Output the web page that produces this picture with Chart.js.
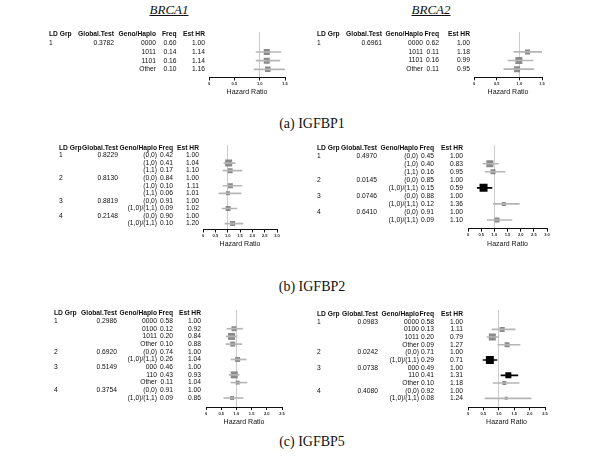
<!DOCTYPE html>
<html>
<head>
<meta charset="utf-8">
<script src="https://cdn.jsdelivr.net/npm/chart.js@4.4.1/dist/chart.umd.min.js"></script>
<style>
  body { margin: 0; width: 600px; height: 461px; background: #fff; position: relative; overflow: hidden; font-family: "Liberation Serif", "Times New Roman", serif; color: #111; }
  .gene { position: absolute; top: 3px; font-size: 13px; line-height: 14px; font-style: italic; text-decoration: underline; transform: translateX(-50%); white-space: nowrap; }
  .cap { position: absolute; font-size: 14px; line-height: 14px; transform: translateX(-50%); white-space: nowrap; }
  canvas { position: absolute; }
</style>
</head>
<body>
<div class="gene" style="left:169px">BRCA1</div>
<div class="gene" style="left:431px">BRCA2</div>
<div class="cap" style="left:312px;top:117px">(a) IGFBP1</div>
<div class="cap" style="left:312px;top:280px">(b) IGFBP2</div>
<div class="cap" style="left:312px;top:435px">(c) IGFBP5</div>

<canvas id="a1"></canvas>
<canvas id="a2"></canvas>
<canvas id="b1"></canvas>
<canvas id="b2"></canvas>
<canvas id="c1"></canvas>
<canvas id="c2"></canvas>

<script>
// --- (a) IGFBP1, BRCA1 ---
const a1Grp = ['1', '', '', ''];
const a1Global = ['0.3782', '', '', ''];
const a1Haplo = ['0000', '1011', '1101', 'Other'];
const a1Freq = [0.60, 0.14, 0.16, 0.10];
const a1HR = [1.00, 1.14, 1.14, 1.16];
const a1Low = [null, 0.93, 0.93, 0.89];
const a1High = [null, 1.42, 1.40, 1.50];

// --- (a) IGFBP1, BRCA2 ---
const a2Grp = ['1', '', '', ''];
const a2Global = ['0.6961', '', '', ''];
const a2Haplo = ['0000', '1011', '1101', 'Other'];
const a2Freq = [0.62, 0.11, 0.16, 0.11];
const a2HR = [1.00, 1.18, 0.99, 0.95];
const a2Low = [null, 0.88, 0.75, 0.66];
const a2High = [null, 1.61, 1.30, 1.32];

// --- (b) IGFBP2, BRCA1 ---
const b1Grp = ['1', '', '', '2', '', '', '3', '', '4', ''];
const b1Global = ['0.8229', '', '', '0.8130', '', '', '0.8819', '', '0.2148', ''];
const b1Haplo = ['(0,0)', '(1,0)', '(1,1)', '(0,0)', '(1,0)', '(1,1)', '(0,0)', '(1,0)/(1,1)', '(0,0)', '(1,0)/(1,1)'];
const b1Freq = [0.42, 0.41, 0.17, 0.84, 0.10, 0.06, 0.91, 0.09, 0.90, 0.10];
const b1HR = [1.00, 1.04, 1.10, 1.00, 1.11, 1.01, 1.00, 1.02, 1.00, 1.20];
const b1Low = [null, 0.85, 0.81, null, 0.81, 0.65, null, 0.77, null, 0.89];
const b1High = [null, 1.30, 1.58, null, 1.58, 1.54, null, 1.38, null, 1.62];

// --- (b) IGFBP2, BRCA2 ---
const b2Grp = ['1', '', '', '2', '', '3', '', '4', ''];
const b2Global = ['0.4970', '', '', '0.0145', '', '0.0746', '', '0.6410', ''];
const b2Haplo = ['(0,0)', '(1,0)', '(1,1)', '(0,0)', '(1,0)/(1,1)', '(0,0)', '(1,0)/(1,1)', '(0,0)', '(1,0)/(1,1)'];
const b2Freq = [0.45, 0.40, 0.16, 0.85, 0.15, 0.88, 0.12, 0.91, 0.09];
const b2HR = [1.00, 0.83, 0.95, 1.00, 0.59, 1.00, 1.36, 1.00, 1.10];
const b2Low = [null, 0.57, 0.65, null, 0.35, null, 0.96, null, 0.73];
const b2High = [null, 1.15, 1.41, null, 0.91, null, 1.95, null, 1.67];

// --- (c) IGFBP5, BRCA1 ---
const c1Grp = ['1', '', '', '', '2', '', '3', '', '', '4', ''];
const c1Global = ['0.2986', '', '', '', '0.6920', '', '0.5149', '', '', '0.3754', ''];
const c1Haplo = ['0000', '0100', '1011', 'Other', '(0,0)', '(1,0)/(1,1)', '000', '110', 'Other', '(0,0)', '(1,0)/(1,1)'];
const c1Freq = [0.58, 0.12, 0.20, 0.10, 0.74, 0.26, 0.46, 0.43, 0.11, 0.91, 0.09];
const c1HR = [1.00, 0.92, 0.84, 0.88, 1.00, 1.04, 1.00, 0.93, 1.04, 1.00, 0.86];
const c1Low = [null, 0.69, 0.66, 0.66, null, 0.82, null, 0.76, 0.82, null, 0.59];
const c1High = [null, 1.20, 1.02, 1.18, null, 1.32, null, 1.09, 1.35, null, 1.22];

// --- (c) IGFBP5, BRCA2 ---
const c2Grp = ['1', '', '', '', '2', '', '3', '', '', '4', ''];
const c2Global = ['0.0983', '', '', '', '0.0242', '', '0.0738', '', '', '0.4080', ''];
const c2Haplo = ['0000', '0100', '1011', 'Other', '(0,0)', '(1,0)/(1,1)', '000', '110', 'Other', '(0,0)', '(1,0)/(1,1)'];
const c2Freq = [0.58, 0.13, 0.20, 0.09, 0.71, 0.29, 0.49, 0.41, 0.10, 0.92, 0.08];
const c2HR = [1.00, 1.11, 0.79, 1.27, 1.00, 0.71, 1.00, 1.31, 1.18, 1.00, 1.24];
const c2Low = [null, 0.78, 0.62, 0.97, null, 0.49, null, 1.07, 0.82, null, 0.55];
const c2High = [null, 1.53, 1.00, 1.69, null, 0.94, null, 1.62, 1.66, null, 2.05];

const tableHeaders = ['LD Grp', 'Global.Test', 'Geno/Haplo', 'Freq', 'Est HR'];
const axisTitle = 'Hazard Ratio';

// mise en page (pixels de la page) et taille des carrés
const panels = [
  { id: 'a1', grp: a1Grp, glob: a1Global, haplo: a1Haplo, freq: a1Freq, hr: a1HR, lo: a1Low, hi: a1High,
    left: 44, right: 295, top: 32, axis: 77.5, areaL: 209, areaR: 285, xMax: 1.5, rowTop: -1.30, rowAxis: 3.94,
    cols: [49, 114, 156, 176.5, 205], box: [0, 6, 6, 5.5] },
  { id: 'a2', grp: a2Grp, glob: a2Global, haplo: a2Haplo, freq: a2Freq, hr: a2HR, lo: a2Low, hi: a2High,
    left: 312, right: 560, top: 32, axis: 77.3, areaL: 474, areaR: 542, xMax: 1.5, rowTop: -1.30, rowAxis: 3.94,
    cols: [317, 382, 423, 439, 470], box: [0, 5, 7, 6] },
  { id: 'b1', grp: b1Grp, glob: b1Global, haplo: b1Haplo, freq: b1Freq, hr: b1HR, lo: b1Low, hi: b1High,
    left: 54, right: 290, top: 145, axis: 229.5, areaL: 203, areaR: 277, xMax: 3, rowTop: -1.39, rowAxis: 9.78,
    cols: [59, 118, 157, 173, 199], box: [0, 7, 5, 0, 5, 4, 0, 5, 0, 5] },
  { id: 'b2', grp: b2Grp, glob: b2Global, haplo: b2Haplo, freq: b2Freq, hr: b2HR, lo: b2Low, hi: b2High,
    left: 312, right: 560, top: 145, axis: 228.7, areaL: 468, areaR: 547, xMax: 3, rowTop: -1.33, rowAxis: 9.08,
    cols: [317, 377, 418, 434, 463], box: [0, 7, 5, 0, 8, 0, 4, 0, 5] },
  { id: 'c1', grp: c1Grp, glob: c1Global, haplo: c1Haplo, freq: c1Freq, hr: c1HR, lo: c1Low, hi: c1High,
    left: 50, right: 292, top: 310, axis: 407, areaL: 206, areaR: 282, xMax: 2.5, rowTop: -1.43, rowAxis: 11.17,
    cols: [54, 117, 157, 173, 201], box: [0, 5, 7, 5, 0, 5, 0, 7, 4, 0, 4] },
  { id: 'c2', grp: c2Grp, glob: c2Global, haplo: c2Haplo, freq: c2Freq, hr: c2HR, lo: c2Low, hi: c2High,
    left: 312, right: 560, top: 310, axis: 407.3, areaL: 468, areaR: 545, xMax: 2.5, rowTop: -1.53, rowAxis: 11.17,
    cols: [317, 378, 419, 434, 463], box: [0, 5, 7, 5, 0, 8, 0, 6, 4, 0, 3] }
];

const AXIS_BOX = 19.2; // hauteur de l'axe x : ticks + libellés + titre
const GREY = '#8a8a8a';
const CI_GREY = '#b5b5b5';
const TABLE_FONT = '6.7px "Liberation Sans", Arial, sans-serif';

function tablePlugin(p, offsetX) {
  return {
    id: 'table-' + p.id,
    afterDraw(chart) {
      const ctx = chart.ctx;
      const y = chart.scales.y;
      const cx = p.cols.map(c => c - offsetX);
      ctx.save();
      ctx.fillStyle = '#0d0d0d';
      ctx.textBaseline = 'middle';
      ctx.font = 'bold ' + TABLE_FONT;
      const hy = y.getPixelForValue(-1);
      tableHeaders.forEach((h, i) => {
        ctx.textAlign = i === 0 ? 'left' : 'right';
        ctx.fillText(h, cx[i], hy);
      });
      ctx.font = TABLE_FONT;
      p.haplo.forEach((h, r) => {
        const ry = y.getPixelForValue(r);
        ctx.textAlign = 'left';
        ctx.fillText(p.grp[r], cx[0], ry);
        ctx.textAlign = 'right';
        ctx.fillText(p.glob[r], cx[1], ry);
        ctx.fillText(h, cx[2], ry);
        ctx.fillText(p.freq[r].toFixed(2), cx[3], ry);
        ctx.fillText(p.hr[r].toFixed(2), cx[4], ry);
      });
      ctx.restore();
    }
  };
}

panels.forEach(p => {
  const canvas = document.getElementById(p.id);
  const ct = Math.floor(p.top - 6);
  const padTop = p.top - ct;
  const ch = Math.ceil(padTop + (p.axis - p.top) + AXIS_BOX);
  const padBottom = ch - (padTop + (p.axis - p.top) + AXIS_BOX);
  const cw = p.right - p.left;
  canvas.width = cw;
  canvas.height = ch;
  canvas.style.left = p.left + 'px';
  canvas.style.top = ct + 'px';
  canvas.style.width = cw + 'px';
  canvas.style.height = ch + 'px';

  const ciData = [], boxData = [], ciColors = [], boxColors = [], radii = [];
  p.hr.forEach((v, r) => {
    if (p.lo[r] === null) return;
    const signif = p.hi[r] < 1 || p.lo[r] > 1;
    ciData.push({ y: r, x: [p.lo[r], p.hi[r]] });
    ciColors.push(signif ? '#000' : CI_GREY);
    boxData.push({ x: v, y: r });
    boxColors.push(signif ? '#000' : GREY);
    radii.push(p.box[r] / Math.SQRT2);
  });

  new Chart(canvas, {
    type: 'scatter',
    data: {
      datasets: [
        {
          type: 'bar',
          indexAxis: 'y',
          data: ciData,
          backgroundColor: ciColors,
          borderWidth: 0,
          barThickness: 1,
          grouped: false
        },
        {
          type: 'scatter',
          data: boxData,
          pointStyle: 'rect',
          pointRadius: radii,
          backgroundColor: boxColors,
          borderWidth: 0
        }
      ]
    },
    options: {
      responsive: false,
      animation: false,
      events: [],
      layout: {
        padding: { left: p.areaL - p.left, right: p.right - p.areaR, top: padTop, bottom: padBottom }
      },
      plugins: { legend: { display: false }, tooltip: { enabled: false } },
      scales: {
        x: {
          type: 'linear',
          min: 0,
          max: p.xMax,
          offset: false,
          border: { display: true, color: '#111', width: 1 },
          grid: {
            offset: false,
            drawTicks: true,
            tickLength: 3,
            tickColor: '#111',
            lineWidth: 1,
            color: ctx => (ctx.tick && ctx.tick.value === 1 ? '#cccccc' : 'rgba(0,0,0,0)')
          },
          ticks: {
            stepSize: 0.5,
            padding: 1,
            color: '#222',
            maxRotation: 0,
            autoSkip: false,
            font: { family: '"Liberation Sans", Arial, sans-serif', size: 4, weight: 'bold' }
          },
          title: {
            display: true,
            text: axisTitle,
            color: '#111',
            padding: { top: 1, bottom: 0 },
            font: { family: '"Liberation Sans", Arial, sans-serif', size: 7 }
          },
          afterFit: s => { s.paddingLeft = 0; s.paddingRight = 0; }
        },
        y: {
          type: 'linear',
          display: false,
          reverse: true,
          offset: false,
          min: p.rowTop,
          max: p.rowAxis
        }
      }
    },
    plugins: [tablePlugin(p, p.left)]
  });
});
</script>
</body>
</html>
